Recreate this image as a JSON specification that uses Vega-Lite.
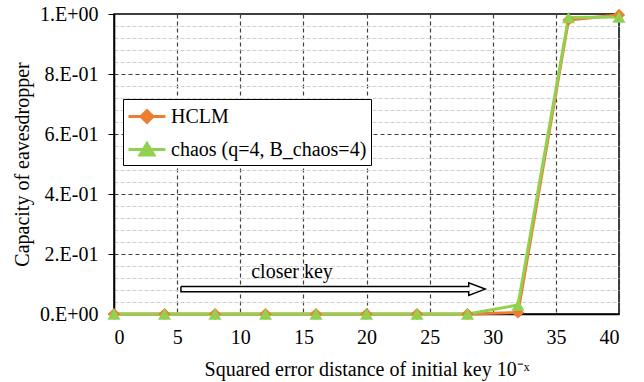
{
  "$schema": "https://vega.github.io/schema/vega-lite/v6.json",
  "width": 505,
  "height": 300,
  "autosize": {"type": "none"},
  "padding": {"left": 114, "top": 14, "right": 25, "bottom": 68},
  "background": "white",
  "config": {
    "font": "'Liberation Serif', 'Times New Roman', serif",
    "view": {"stroke": "black", "strokeWidth": 1.5},
    "text": {"font": "'Liberation Serif', 'Times New Roman', serif"},
    "legend": {"labelFont": "'Liberation Serif', 'Times New Roman', serif"},
    "axis": {"labelFont": "'Liberation Serif', 'Times New Roman', serif", "titleFont": "'Liberation Serif', 'Times New Roman', serif", "labelColor": "black", "titleColor": "black", "titleFontWeight": "normal", "labelFontSize": 20, "titleFontSize": 20, "labelOverlap": false}
  },
  "datasets": {
    "series": [
      {"x": 0, "y": 0, "s": "HCLM"},
      {"x": 4, "y": 0, "s": "HCLM"},
      {"x": 8, "y": 0, "s": "HCLM"},
      {"x": 12, "y": 0, "s": "HCLM"},
      {"x": 16, "y": 0, "s": "HCLM"},
      {"x": 20, "y": 0, "s": "HCLM"},
      {"x": 24, "y": 0, "s": "HCLM"},
      {"x": 28, "y": 0, "s": "HCLM"},
      {"x": 32, "y": 0.005, "s": "HCLM"},
      {"x": 36, "y": 0.98, "s": "HCLM"},
      {"x": 40, "y": 0.997, "s": "HCLM"},
      {"x": 0, "y": 0, "s": "chaos (q=4, B_chaos=4)"},
      {"x": 4, "y": 0, "s": "chaos (q=4, B_chaos=4)"},
      {"x": 8, "y": 0, "s": "chaos (q=4, B_chaos=4)"},
      {"x": 12, "y": 0, "s": "chaos (q=4, B_chaos=4)"},
      {"x": 16, "y": 0, "s": "chaos (q=4, B_chaos=4)"},
      {"x": 20, "y": 0, "s": "chaos (q=4, B_chaos=4)"},
      {"x": 24, "y": 0, "s": "chaos (q=4, B_chaos=4)"},
      {"x": 28, "y": 0, "s": "chaos (q=4, B_chaos=4)"},
      {"x": 32, "y": 0.03, "s": "chaos (q=4, B_chaos=4)"},
      {"x": 36, "y": 0.988, "s": "chaos (q=4, B_chaos=4)"},
      {"x": 40, "y": 0.99, "s": "chaos (q=4, B_chaos=4)"}
    ],
    "arrow": [
      {"i": 0, "x": 5.3, "y": 0.0915},
      {"i": 1, "x": 28.1, "y": 0.0915},
      {"i": 2, "x": 28.1, "y": 0.104},
      {"i": 3, "x": 29.4, "y": 0.083},
      {"i": 4, "x": 28.1, "y": 0.062},
      {"i": 5, "x": 28.1, "y": 0.0745},
      {"i": 6, "x": 5.3, "y": 0.0745},
      {"i": 7, "x": 5.3, "y": 0.0915}
    ],
    "shaft": [{"x": 5.3, "x2": 28.1, "y": 0.0745, "y2": 0.0915}],
    "label": [{"x": 14.1, "y": 0.14, "t": "closer key"}]
  },
  "layer": [
    {
      "data": {"name": "shaft"},
      "mark": {"type": "rect", "fill": "white"},
      "encoding": {
        "x": {"field": "x", "type": "quantitative", "scale": {"domain": [0, 40], "nice": false},
          "axis": {"values": [0, 5, 10, 15, 20, 25, 30, 35, 40], "tickCount": 20, "title": "Squared error distance of initial key 10⁻ˣ", "domainColor": "black", "domainWidth": 1.5, "tickSize": 0, "labelPadding": 13, "gridColor": "#404040", "gridDash": [4, 3], "gridWidth": 1.2, "titleBaseline": "alphabetic", "titleY": 61}},
        "x2": {"field": "x2"},
        "y": {"field": "y", "type": "quantitative", "scale": {"domain": [0, 1], "nice": false},
          "axis": {
            "values": [0, 0.04, 0.08, 0.12, 0.16, 0.2, 0.24, 0.28, 0.32, 0.36, 0.4, 0.44, 0.48, 0.52, 0.56, 0.6, 0.64, 0.68, 0.72, 0.76, 0.8, 0.84, 0.88, 0.92, 0.96, 1],
            "tickCount": 60,
            "title": "Capacity of eavesdropper",
            "domainColor": "black", "domainWidth": 1.5,
            "tickSize": 6, "tickColor": "black",
            "tickOpacity": {"condition": {"test": "abs(datum.value*5 - round(datum.value*5)) < 0.001", "value": 1}, "value": 0},
            "labelPadding": 10,
            "labelExpr": "abs(datum.value*5 - round(datum.value*5)) < 0.001 ? (datum.value < 0.001 ? '0.E+00' : (datum.value > 0.999 ? '1.E+00' : round(datum.value*10) + '.E-01')) : ''",
            "gridColor": {"condition": {"test": "abs(datum.value*5 - round(datum.value*5)) < 0.001", "value": "#404040"}, "value": "#d0d0d0"},
            "gridDash": {"condition": {"test": "abs(datum.value*5 - round(datum.value*5)) < 0.001", "value": [4, 3]}, "value": [4, 2]},
            "gridWidth": 1.2,
            "titleBaseline": "alphabetic", "titleX": -86
          }},
        "y2": {"field": "y2"}
      }
    },
    {
      "data": {"name": "arrow"},
      "mark": {"type": "line", "color": "black", "strokeWidth": 1.5},
      "encoding": {
        "x": {"field": "x", "type": "quantitative"},
        "y": {"field": "y", "type": "quantitative"},
        "order": {"field": "i"}
      }
    },
    {
      "data": {"name": "label"},
      "mark": {"type": "text", "fontSize": 20, "color": "black", "baseline": "middle"},
      "encoding": {
        "x": {"field": "x", "type": "quantitative"},
        "y": {"field": "y", "type": "quantitative"},
        "text": {"field": "t"}
      }
    },
    {
      "data": {"name": "series"},
      "mark": {"type": "line", "strokeWidth": 3},
      "encoding": {
        "x": {"field": "x", "type": "quantitative"},
        "y": {"field": "y", "type": "quantitative"},
        "color": {"field": "s", "type": "nominal", "scale": {"domain": ["HCLM", "chaos (q=4, B_chaos=4)"], "range": ["#ED7D31", "#92D050"]},
          "legend": {
            "title": null, "orient": "none", "legendX": 9, "legendY": 85,
            "fillColor": "white", "strokeColor": "black",
            "padding": 4, "rowPadding": 7,
            "labelFontSize": 20, "labelColor": "black", "labelOffset": 17, "labelLimit": 400,
            "symbolSize": 576, "symbolStrokeWidth": 3,
            "encode": {"symbols": {"update": {"shape": {"signal": "datum.value == 'HCLM' ? 'M-1,0L2.08,0M0.54,-0.5L1.04,0L0.54,0.5L0.04,0Z' : 'M-1,0L2.08,0M0.54,-0.5L1.12,0.45L-0.04,0.45Z'"}, "fill": {"signal": "datum.value == 'HCLM' ? '#ED7D31' : '#92D050'"}, "stroke": {"signal": "datum.value == 'HCLM' ? '#ED7D31' : '#92D050'"}}}}
          }}
      }
    },
    {
      "data": {"name": "series"},
      "transform": [{"filter": "datum.s == 'HCLM'"}],
      "mark": {"type": "point", "filled": true, "opacity": 1, "size": 150, "shape": "diamond"},
      "encoding": {
        "x": {"field": "x", "type": "quantitative"},
        "y": {"field": "y", "type": "quantitative"},
        "color": {"field": "s", "type": "nominal"}
      }
    },
    {
      "data": {"name": "series"},
      "transform": [{"filter": "datum.s != 'HCLM'"}],
      "mark": {"type": "point", "filled": true, "opacity": 1, "size": 170, "shape": "triangle-up"},
      "encoding": {
        "x": {"field": "x", "type": "quantitative"},
        "y": {"field": "y", "type": "quantitative"},
        "color": {"field": "s", "type": "nominal"}
      }
    }
  ]
}
